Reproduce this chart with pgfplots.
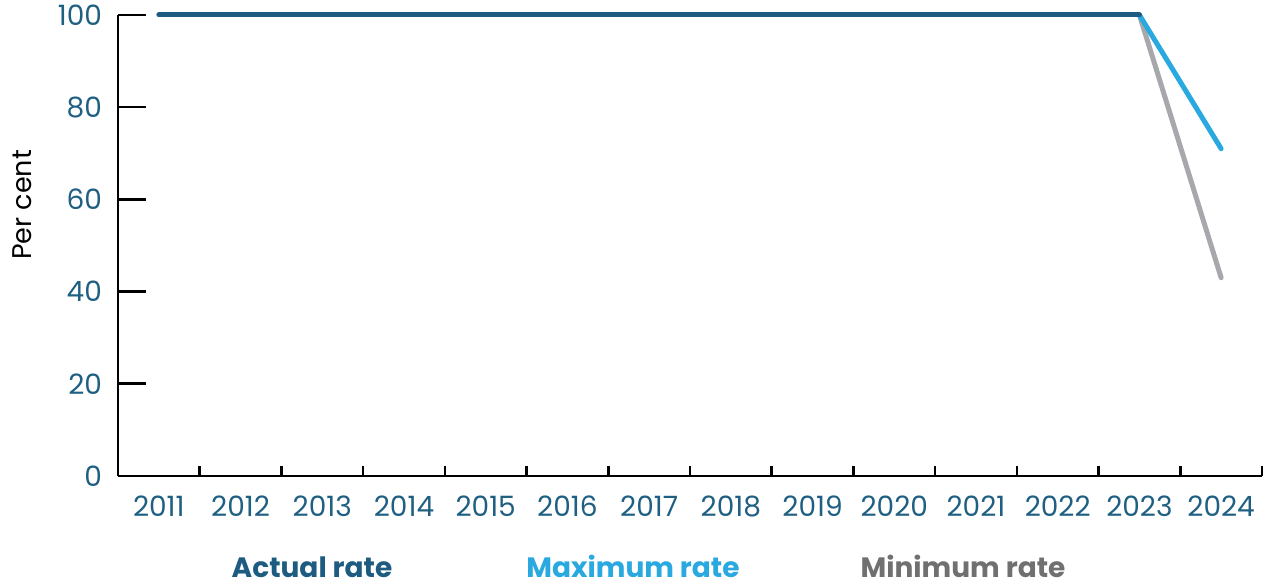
\documentclass[border=0pt]{standalone}
\usepackage{pgfplots}
\pgfplotsset{compat=1.18}
\usepackage{fontspec}
\setmainfont{Poppins}
\definecolor{actual}{HTML}{1D5C80}
\definecolor{tickblue}{HTML}{1F5F82}
\definecolor{maxc}{HTML}{29A9E0}
\definecolor{minc}{HTML}{A7A8AB}
\definecolor{mintext}{HTML}{707070}
\begin{document}
\begin{tikzpicture}
\begin{axis}[
  scale only axis,
  width=572pt, height=230.5pt,
  xmin=-0.5, xmax=13.5, ymin=0, ymax=100,
  axis lines=left,
  axis line style={line width=1.3pt, -},
  xtick={-0.5,0.5,...,13.5},
  x tick label as interval,
  xticklabels={2011,2012,2013,2014,2015,2016,2017,2018,2019,2020,2021,2022,2023,2024},
  ytick={0,20,...,100},
  tick align=inside,
  major tick length=14pt,
  xtick style={line width=1.3pt, black, /pgfplots/major tick length=5pt},
  ytick style={line width=1.3pt, black},
  x tick label style={font=\fontsize{14}{16}\selectfont, text=tickblue, yshift=-6.5pt},
  y tick label style={font=\fontsize{14}{16}\selectfont, text=tickblue, xshift=-4.5pt},
  /pgf/number format/assume math mode=true,
  clip=false,
]
\addplot[minc, line width=2.5pt, line cap=round] coordinates {(12,100) (13,43)};
\addplot[maxc, line width=2.5pt, line cap=round] coordinates {(12,100) (13,71)};
\addplot[actual, line width=2.5pt, line cap=round] coordinates {
(0,100) (1,100) (2,100) (3,100) (4,100) (5,100) (6,100) (7,100) (8,100) (9,100) (10,100) (11,100) (12,100)};
\end{axis}
\node[rotate=90, font=\fontsize{13.5}{16}\selectfont, text=black] at (-48pt,135.5pt) {Per cent};
\node[anchor=base, inner sep=0pt, font=\bfseries\fontsize{14}{16}\selectfont, text=actual] at (97pt,-51pt) {Actual rate};
\node[anchor=base, inner sep=0pt, font=\bfseries\fontsize{14}{16}\selectfont, text=maxc] at (257.5pt,-51pt) {Maximum rate};
\node[anchor=base, inner sep=0pt, font=\bfseries\fontsize{14}{16}\selectfont, text=mintext] at (422.5pt,-51pt) {Minimum rate};
\pgfresetboundingbox
\path (-59pt,-55.5pt) rectangle (574pt,238pt);
\end{tikzpicture}
\end{document}
